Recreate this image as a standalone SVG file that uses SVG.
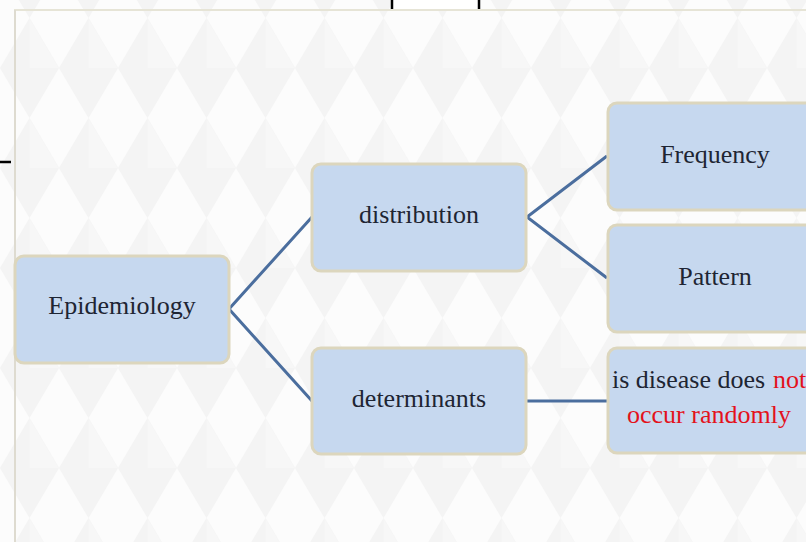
<svg xmlns="http://www.w3.org/2000/svg" width="806" height="542" viewBox="0 0 806 542">
  <defs>
    <pattern id="harl" width="59" height="100" patternUnits="userSpaceOnUse" x="0" y="18">
      <rect width="59" height="100" fill="#fcfcfc"/>
      <polygon points="29.5,0 59,50 29.5,100 0,50" fill="#f4f4f4"/>
      <polygon points="29.5,0 59,50 29.5,50" fill="#f7f7f7"/>
    </pattern>
    <style>
      .box { fill: #c6d8ef; stroke: #dcd6bd; stroke-width: 3; }
      .lbl { font-family: "Liberation Serif", "Times New Roman", serif; font-size: 26px; fill: #1e2533; text-anchor: middle; }
      .txt { font-family: "Liberation Serif", "Times New Roman", serif; font-size: 26px; fill: #1e2533; }
      .red { fill: #e3121c; }
      .conn { stroke: #4b6e9e; stroke-width: 3; fill: none; }
      .blk { stroke: #000; stroke-width: 2.5; }
    </style>
  </defs>

  <!-- background -->
  <rect width="806" height="542" fill="url(#harl)"/>
  <rect x="393" y="0" width="85" height="9" fill="#ffffff"/>
  <line class="blk" x1="392" y1="0" x2="392" y2="9"/>
  <line class="blk" x1="479" y1="0" x2="479" y2="9"/>
  <line class="blk" x1="0" y1="162" x2="11" y2="162"/>
  <!-- slide border -->
  <line x1="14" y1="10" x2="806" y2="10" stroke="#e6e4d6" stroke-width="2"/>
  <line x1="15" y1="10" x2="15" y2="542" stroke="#dedbd0" stroke-width="2"/>

  <g id="connectors">
    <polyline class="conn" points="312,217 229,309 312,401"/>
    <polyline class="conn" points="607,156 527,217 607,278"/>
    <line class="conn" x1="527" y1="401" x2="607" y2="401"/>
  </g>

  <g id="epidemiology">
    <rect class="box" x="15" y="256" width="214" height="107" rx="9"/>
    <text class="lbl" x="122" y="314">Epidemiology</text>
  </g>
  <g id="distribution">
    <rect class="box" x="312" y="164" width="214" height="107" rx="9"/>
    <text class="lbl" x="419" y="223">distribution</text>
  </g>
  <g id="determinants">
    <rect class="box" x="312" y="348" width="214" height="106" rx="9"/>
    <text class="lbl" x="419" y="407">determinants</text>
  </g>
  <g id="frequency">
    <rect class="box" x="608" y="103" width="214" height="107" rx="9"/>
    <text class="lbl" x="715" y="163">Frequency</text>
  </g>
  <g id="pattern">
    <rect class="box" x="608" y="225" width="214" height="107" rx="9"/>
    <text class="lbl" x="715" y="285">Pattern</text>
  </g>
  <g id="random">
    <rect class="box" x="608" y="348" width="214" height="105" rx="9"/>
    <text class="txt" x="612" y="388">is disease does<tspan class="red" x="773">not</tspan></text>
    <text class="txt red" x="627" y="423">occur randomly</text>
  </g>
</svg>
